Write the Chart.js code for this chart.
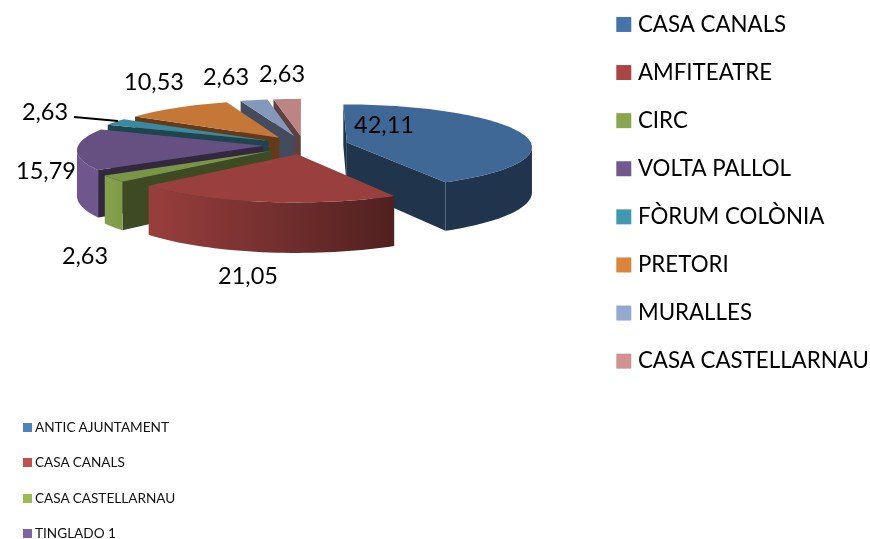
<!DOCTYPE html>
<html>
<head>
<meta charset="utf-8">
<script src="https://cdn.jsdelivr.net/npm/chart.js@4"></script>
<style>
  body { margin: 0; background: #fff; width: 870px; height: 539px; overflow: hidden; position: relative; }
  canvas { position: absolute; left: 0; top: 0; }
  .low-legend { position: absolute; left: 23px; top: 410px; font: 13.6px Lato, sans-serif; color: #111; }
  .low-legend div { height: 35.3px; line-height: 35.3px; white-space: nowrap; }
  .low-legend span { display: inline-block; width: 9px; height: 9px; margin-right: 3px; }
</style>
</head>
<body>
<canvas id="pie" width="870" height="539"></canvas>
<div class="low-legend" id="lowLegend"></div>
<script>
const categories = ["CASA CANALS", "AMFITEATRE", "CIRC", "VOLTA PALLOL", "FÒRUM COLÒNIA", "PRETORI", "MURALLES", "CASA CASTELLARNAU"];
const values = [42.11, 21.05, 2.63, 15.79, 2.63, 10.53, 2.63, 2.63];
const colors = ["#4674a8", "#aa4644", "#89a54e", "#71588f", "#4198af", "#db843d", "#93a9cf", "#d19392"];

const otherCategories = ["ANTIC AJUNTAMENT", "CASA CANALS", "CASA CASTELLARNAU", "TINGLADO 1"];
const otherColors = ["#4f81bd", "#c0504d", "#9bbb59", "#8064a2"];

// where excel left the value labels, roughly
const labelSpots = [[384, 125], [248, 276], [85, 256], [46, 171], [45, 112], [154, 82], [226, 77], [282, 74]];
const explodeBy = [0.24, 0.22, 0.22, 0.22, 0.22, 0.22, 0.22, 0.22];

const pieX = 304;
const pieY = 145;
const tilt = 0.227;
const depth = 45;
const persp = 0.09;

function shade(hex, f) {
  const n = parseInt(hex.slice(1), 16);
  const r = Math.round(((n >> 16) & 255) * f);
  const g = Math.round(((n >> 8) & 255) * f);
  const b = Math.round((n & 255) * f);
  return `rgb(${r},${g},${b})`;
}

const pie3d = {
  id: "pie3d",
  afterLayout(chart) {
    chart.legend.left = 595;
    chart.legend.top = -12.5;
  },
  beforeDatasetDraw(chart, args) {
    const ctx = chart.ctx;

    const outlines = args.meta.data.map((arc, idx) => {
      const R = arc.outerRadius;
      const mid = (arc.startAngle + arc.endAngle) / 2;
      const ox = explodeBy[idx] * R * Math.cos(mid);
      const oy = explodeBy[idx] * R * Math.sin(mid);
      const project = (X, Y) => {
        const s = 1 / (1 - persp * (Y / R));
        return { x: pieX + X * s, y: pieY + Y * tilt * s, s };
      };
      const pts = [project(ox, oy)];
      const steps = Math.max(2, Math.ceil((arc.endAngle - arc.startAngle) / 0.035));
      for (let i = 0; i <= steps; i++) {
        const a = arc.startAngle + ((arc.endAngle - arc.startAngle) * i) / steps;
        pts.push(project(ox + R * Math.cos(a), oy + R * Math.sin(a)));
      }
      return { pts, midY: Math.sin(mid), color: arc.options.backgroundColor };
    });

    // paint from the back of the pie to the front
    outlines.sort((a, b) => a.midY - b.midY);

    const wall = (list, style) => {
      ctx.fillStyle = style;
      ctx.beginPath();
      list.forEach((p, i) => (i ? ctx.lineTo(p.x, p.y) : ctx.moveTo(p.x, p.y)));
      [...list].reverse().forEach((p) => ctx.lineTo(p.x, p.y + depth * p.s));
      ctx.closePath();
      ctx.fill();
    };

    outlines.forEach(({ pts, color }) => {
      const n = pts.length;
      const apex = pts[0];
      // flat cut faces, only the ones turned to the viewer
      if (pts[1].x < apex.x) wall([apex, pts[1]], shade(color, 0.45));
      if (apex.x < pts[n - 1].x) wall([pts[n - 1], apex], shade(color, 0.45));

      // rim: lighter on the left, darker going right like the office 3d lighting
      const rim = pts.slice(1).filter((p, i, all) => {
        const prev = all[i - 1];
        const next = all[i + 1];
        return (next && next.x < p.x) || (prev && p.x < prev.x);
      });
      if (rim.length > 1) {
        const g = ctx.createLinearGradient(100, 0, 400, 0);
        g.addColorStop(0, shade(color, 0.98));
        g.addColorStop(1, shade(color, 0.46));
        wall(rim, g);
      }

      ctx.fillStyle = shade(color, 0.9);
      ctx.beginPath();
      pts.forEach((p, i) => (i ? ctx.lineTo(p.x, p.y) : ctx.moveTo(p.x, p.y)));
      ctx.closePath();
      ctx.fill();
    });
    return false;
  },
  afterDraw(chart) {
    const ctx = chart.ctx;
    ctx.save();
    ctx.fillStyle = "#000";
    ctx.font = "23.5px Lato, sans-serif";
    ctx.textAlign = "center";
    ctx.textBaseline = "middle";
    values.forEach((v, i) => {
      ctx.fillText(v.toFixed(2).replace(".", ","), labelSpots[i][0], labelSpots[i][1]);
    });
    // leader line of the small teal slice
    ctx.strokeStyle = "#000";
    ctx.lineWidth = 2;
    ctx.beginPath();
    ctx.moveTo(74, 117);
    ctx.lineTo(118, 121);
    ctx.stroke();
    ctx.restore();
  },
};

new Chart(document.getElementById("pie"), {
  type: "pie",
  data: {
    labels: categories,
    datasets: [{ data: values, backgroundColor: colors, borderWidth: 0 }],
  },
  options: {
    responsive: false,
    animation: false,
    radius: 185,
    plugins: {
      tooltip: { enabled: false },
      legend: {
        position: "right",
        align: "start",
        labels: {
          color: "#000",
          padding: 25.8,
          boxWidth: 6,
          boxHeight: 15,
          usePointStyle: true,
          pointStyle: "rect",
          font: { family: "Lato, sans-serif", size: 22.3 },
        },
      },
    },
  },
  plugins: [pie3d],
});

document.getElementById("lowLegend").innerHTML = otherCategories
  .map((name, i) => `<div><span style="background:${otherColors[i]}"></span>${name}</div>`)
  .join("");
</script>
</body>
</html>
